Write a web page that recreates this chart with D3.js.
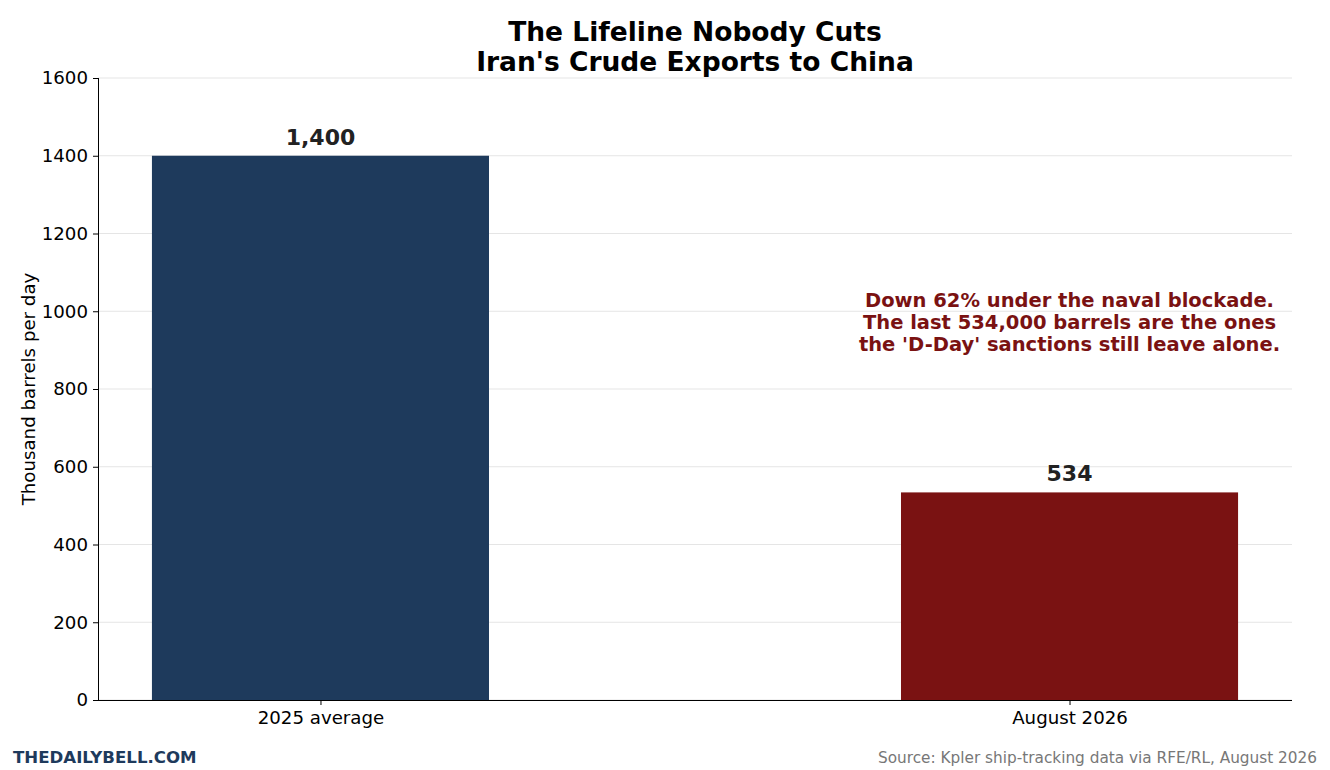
<!DOCTYPE html>
<html><head><meta charset="utf-8">
<script src="https://cdn.jsdelivr.net/npm/d3@7"></script>
<style>body{margin:0;background:#fff}svg{display:block;font-family:"DejaVu Sans",sans-serif}</style>
</head><body><svg id="c" width="1330" height="770"></svg>
<script>
const categories = ["2025 average", "August 2026"];
const values = [1400, 534];
const valueLabels = ["1,400", "534"];
const barColors = ["#1e3a5c", "#7a1212"];
const yTicks = [0, 200, 400, 600, 800, 1000, 1200, 1400, 1600];
const titleLines = ["The Lifeline Nobody Cuts", "Iran's Crude Exports to China"];
const noteLines = ["Down 62% under the naval blockade.", "The last 534,000 barrels are the ones", "the 'D-Day' sanctions still leave alone."];

const svg = d3.select("#c");
const L = 98, R = 1292, T = 78, B = 700;
const x = d3.scaleLinear().domain([-0.297, 1.297]).range([L, R]);
const y = d3.scaleLinear().domain([0, 1600]).range([B, T]);
const bw = 0.45;

// grid
svg.append("g").selectAll("line").data(yTicks).join("line")
  .attr("x1", L).attr("x2", R).attr("y1", d => y(d)).attr("y2", d => y(d))
  .attr("stroke", "#e5e5e5").attr("stroke-width", 1);

// bars
svg.append("g").selectAll("rect").data(values).join("rect")
  .attr("x", (d, i) => x(i - bw / 2)).attr("width", (d, i) => x(i + bw / 2) - x(i - bw / 2))
  .attr("y", d => y(d)).attr("height", d => y(0) - y(d))
  .attr("fill", (d, i) => barColors[i]);

// value labels
svg.append("g").selectAll("text").data(values).join("text")
  .attr("x", (d, i) => x(i)).attr("y", d => y(d) - 11)
  .attr("text-anchor", "middle").attr("font-weight", "bold").attr("font-size", 22)
  .attr("fill", "#222").text((d, i) => valueLabels[i]);

// axes
const ya = d3.axisLeft(y).tickValues(yTicks).tickSize(5).tickPadding(5).tickFormat(d3.format("d"));
const gy = svg.append("g").attr("transform", `translate(${L},0)`).call(ya);
const xa = d3.axisBottom(x).tickValues([0, 1]).tickSize(5).tickPadding(5).tickFormat(i => categories[i]);
const gx = svg.append("g").attr("transform", `translate(0,${B})`).call(xa);
[gy, gx].forEach(g => {
  g.attr("font-size", null).attr("font-family", null);
  g.selectAll("text").attr("font-size", 18.2).attr("fill", "#000");
  g.selectAll("line").attr("stroke", "#000");
  g.select(".domain").attr("stroke", "#000");
});
gx.select(".domain").attr("d", `M${L},0.5H${R}`);
gy.select(".domain").attr("d", `M0.5,${B}V${T}`);
gx.selectAll("text").attr("dy", "0.78em");

// y label
svg.append("text").attr("transform", `translate(35,${(T + B) / 2}) rotate(-90)`)
  .attr("text-anchor", "middle").attr("font-size", 18.2).attr("fill", "#000")
  .text("Thousand barrels per day");

// title
svg.append("g").selectAll("text").data(titleLines).join("text")
  .attr("x", (L + R) / 2).attr("y", (d, i) => 41 + i * 30)
  .attr("text-anchor", "middle").attr("font-weight", "bold").attr("font-size", 26.5)
  .attr("fill", "#000").text(d => d);

// annotation
svg.append("g").selectAll("text").data(noteLines).join("text")
  .attr("x", x(1)).attr("y", (d, i) => 307 + i * 22)
  .attr("text-anchor", "middle").attr("font-weight", "bold").attr("font-size", 19.5)
  .attr("fill", "#7a1212").text(d => d);

// footer
svg.append("text").attr("x", 13).attr("y", 763).attr("font-weight", "bold").attr("font-size", 16.6)
  .attr("fill", "#1e3a5c").text("THEDAILYBELL.COM");
svg.append("text").attr("x", 1317).attr("y", 763).attr("text-anchor", "end").attr("font-size", 15.3)
  .attr("fill", "#777").text("Source: Kpler ship-tracking data via RFE/RL, August 2026");
</script></body></html>
